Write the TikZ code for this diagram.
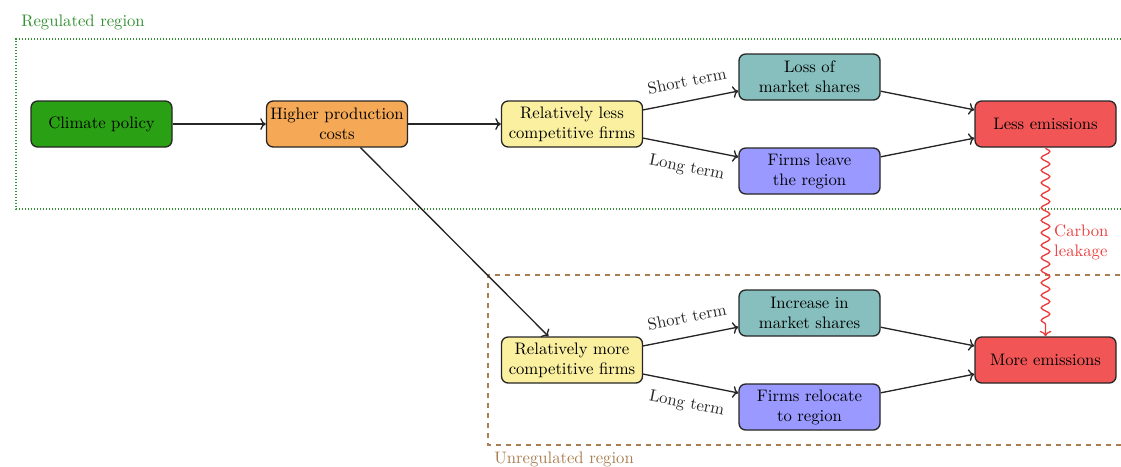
\documentclass[tikz,border=0pt]{standalone}
\usetikzlibrary{decorations.pathmorphing,arrows.meta}
\definecolor{cgreen}{RGB}{42,160,20}
\definecolor{corange}{RGB}{245,168,85}
\definecolor{cyellow}{RGB}{250,240,160}
\definecolor{cteal}{RGB}{134,191,190}
\definecolor{cpurple}{RGB}{153,153,255}
\definecolor{cred}{RGB}{242,85,85}
\definecolor{reggreen}{RGB}{50,145,50}
\definecolor{unbrown}{RGB}{170,125,80}
\definecolor{leakred}{RGB}{235,60,60}
\tikzset{
  box/.style={draw=black!85, thick, rounded corners=4pt, minimum width=84.6pt, minimum height=27.6pt, align=center, inner sep=1pt, font=\normalsize},
  conn/.style={thick, ->, black!85},
  term/.style={sloped, font=\normalsize}
}
\begin{document}
\begin{tikzpicture}[x=0.6pt,y=-0.6pt]
\useasboundingbox (0,0) rectangle (1121,466);
\clip (0,0) rectangle (1121,466);
% regions
\draw[reggreen, densely dotted, thick] (1130,39) -- (16,39) -- (16,209) -- (1130,209);
\node[anchor=west, text=reggreen, inner sep=0pt] (reglab) at (21,22) {Regulated region};
\draw[unbrown, dashed, thick] (1130,275) -- (488,275) -- (488,445) -- (1130,445);
\node[anchor=west, text=unbrown, inner sep=0pt] (unlab) at (494,459) {Unregulated region};
% nodes
\node[box, fill=cgreen] (cp) at (101.5,124) {Climate policy};
\node[box, fill=corange] (hpc) at (337,124) {Higher production\\costs};
\node[box, fill=cyellow] (rlc) at (572,124) {Relatively less\\competitive firms};
\node[box, fill=cteal] (loss) at (809.5,77) {Loss of\\market shares};
\node[box, fill=cpurple] (leave) at (809.5,171) {Firms leave\\the region};
\node[box, fill=cred] (less) at (1045.5,124) {Less emissions};
\node[box, fill=cyellow] (rmc) at (572,360) {Relatively more\\competitive firms};
\node[box, fill=cteal] (inc) at (809.5,313) {Increase in\\market shares};
\node[box, fill=cpurple] (reloc) at (809.5,407) {Firms relocate\\to region};
\node[box, fill=cred] (more) at (1045.5,360) {More emissions};
% connectors
\draw[conn] (cp) -- (hpc);
\draw[conn] (hpc) -- (rlc);
\draw[conn] (hpc) -- (rmc);
\draw[conn] (rlc) -- node[term, above=4.5pt] {Short term} (loss);
\draw[conn] (rlc) -- node[term, below=4.5pt] {Long term} (leave);
\draw[conn] (loss) -- (less);
\draw[conn] (leave) -- (less);
\draw[conn] (rmc) -- node[term, above=4.5pt] {Short term} (inc);
\draw[conn] (rmc) -- node[term, below=4.5pt] {Long term} (reloc);
\draw[conn] (inc) -- (more);
\draw[conn] (reloc) -- (more);
\draw[leakred, thick, ->, decorate, decoration={snake, amplitude=2.6pt, segment length=7.5pt, post length=5pt}] (less) -- node[right=1.5pt, align=left, text=leakred, font=\normalsize] {Carbon\\leakage} (more);
\end{tikzpicture}
\end{document}
